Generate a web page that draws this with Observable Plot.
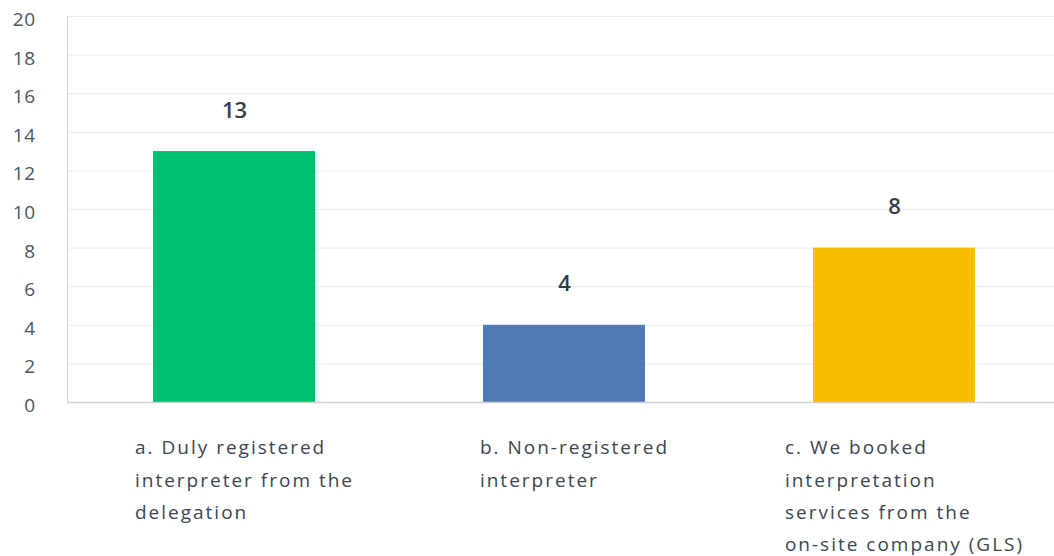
<!DOCTYPE html>
<html>
<head>
<meta charset="utf-8">
<script src="https://cdn.jsdelivr.net/npm/d3@7"></script>
<script src="https://cdn.jsdelivr.net/npm/@observablehq/plot@0.6"></script>
<style>
  html, body { margin: 0; padding: 0; background: #fff; }
  #chart svg { display: block; }
  #chart g[aria-description="category-label"] text { letter-spacing: 2px; }
  #chart g[aria-description="y-tick-label"] text { letter-spacing: 0.5px; }
</style>
</head>
<body>
<div id="chart"></div>
<script>
const categories = [
  "a. Duly registered\ninterpreter from the\ndelegation",
  "b. Non-registered\ninterpreter",
  "c. We booked\ninterpretation\nservices from the\non-site company (GLS)"
];
const values = [13, 4, 8];
const colors = ["#00bf6f", "#507cb6", "#f9be00"];
const yTicks = [0, 2, 4, 6, 8, 10, 12, 14, 16, 18, 20];

const data = categories.map((c, i) => ({category: c, value: values[i], color: colors[i]}));

const FONT = "'Open Sans', sans-serif";
const LABEL_SIZE = 19;
const LETTER = 2;

// measure longest line of each label to centre the left-aligned block on its band
const cvs = document.createElement("canvas").getContext("2d");
cvs.font = `${LABEL_SIZE}px ${FONT}`;
function measure(line) {
  return cvs.measureText(line).width + LETTER * line.length;
}
const blockWidths = categories.map(c => d3.max(c.split("\n"), measure));

const W = 1054, H = 556;
const marginLeft = 67, marginTop = 16, marginBottom = 154;

const labelMarks = categories.map((c, i) => Plot.text([c], {
  x: d => d,
  frameAnchor: "bottom",
  textAnchor: "start",
  lineAnchor: "top",
  dy: 29,
  dx: -blockWidths[i] / 2 + 10,
  lineHeight: 1.7,
  fontSize: LABEL_SIZE,
  fill: "#3b4650",
  text: d => d,
  ariaDescription: "category-label"
}));

const chart = Plot.plot({
  width: W,
  height: H,
  marginLeft,
  marginRight: 0,
  marginTop,
  marginBottom,
  style: {fontFamily: FONT, background: "#fff", overflow: "visible"},
  x: {type: "band", domain: categories, range: [68, 1060], paddingInner: 0.51, paddingOuter: 0.255, axis: null},
  y: {domain: [0, 20], axis: null, label: null},
  marks: [
    Plot.gridY(yTicks, {stroke: "#ebebeb", strokeOpacity: 1}),
    Plot.axisY(yTicks, {
      tickSize: 0,
      tickPadding: 32,
      fontSize: 19,
      dy: 3.5,
      fill: "#4b545c",
      label: null,
      tickFormat: d => String(d),
      ariaDescription: "y-tick-label"
    }),
    Plot.barY(data, {x: "category", y: "value", fill: "color"}),
    Plot.ruleY([0], {stroke: "#cfcfcf", strokeWidth: 1.5}),
    Plot.frame({anchor: "left", stroke: "#d2d2d2"}),
    Plot.text(data, {
      x: "category",
      y: "value",
      text: d => String(d.value),
      dy: -41,
      fontSize: 22,
      fontWeight: 600,
      fill: "#333e48"
    }),
    ...labelMarks
  ]
});

document.getElementById("chart").appendChild(chart);
</script>
</body>
</html>
